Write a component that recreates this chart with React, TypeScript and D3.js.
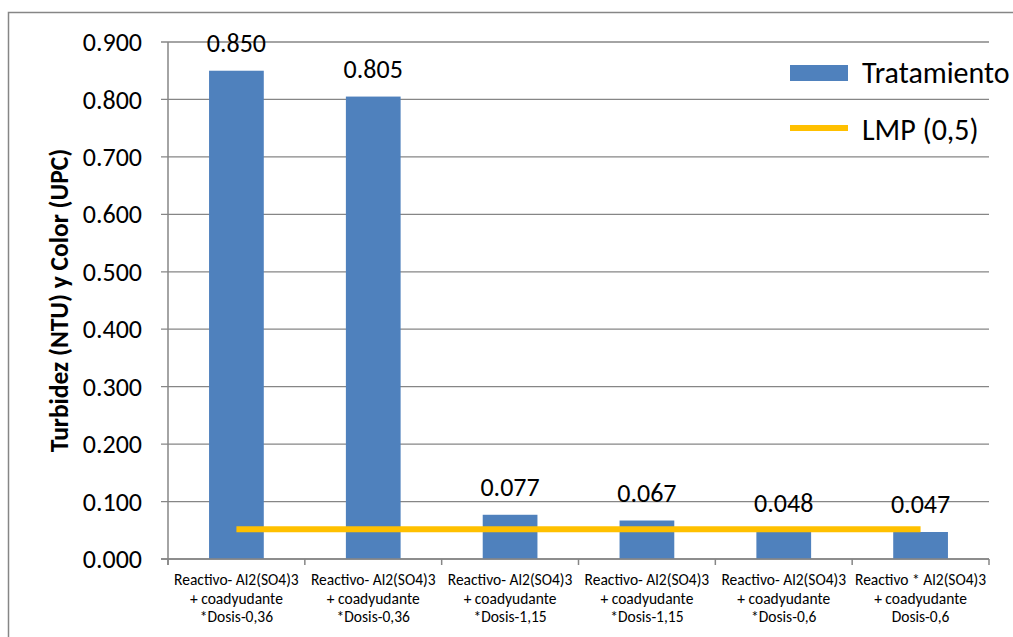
import React from "react";
import * as d3 from "d3";

const categories: string[][] = [
  ["Reactivo- Al2(SO4)3", "+ coadyudante", "*Dosis-0,36"],
  ["Reactivo- Al2(SO4)3", "+ coadyudante", "*Dosis-0,36"],
  ["Reactivo- Al2(SO4)3", "+ coadyudante", "*Dosis-1,15"],
  ["Reactivo- Al2(SO4)3", "+ coadyudante", "*Dosis-1,15"],
  ["Reactivo- Al2(SO4)3", "+ coadyudante", "*Dosis-0,6"],
  ["Reactivo * Al2(SO4)3", "+ coadyudante", "Dosis-0,6"],
];
const tratamiento: number[] = [0.85, 0.805, 0.077, 0.067, 0.048, 0.047];
const lmp: number[] = [0.052, 0.052, 0.052, 0.052, 0.052, 0.052];
const yTicks: number[] = [0, 0.1, 0.2, 0.3, 0.4, 0.5, 0.6, 0.7, 0.8, 0.9];
const seriesNames = ["Tratamiento", "LMP (0,5)"];
const yTitle = "Turbidez (NTU) y Color (UPC)";

const W = 1013;
const H = 637;
const left = 168;
const right = 989;
const top = 42;
const bottom = 559;
const FONT = "Carlito, Calibri, Lato, 'Open Sans', sans-serif";
const BAR = "#4F81BD";
const GOLD = "#FFC000";
const GRID = "#868686";

export default function App() {
  const idx = categories.map((_, i) => String(i));
  const x = d3.scaleBand<string>().domain(idx).range([left, right]).paddingInner(0.6).paddingOuter(0.3);
  const step = (right - left) / categories.length;
  const y = d3.scaleLinear().domain([0, 0.9]).range([bottom, top]);
  const center = (i: number) => (x(String(i)) as number) + x.bandwidth() / 2;
  const line = d3
    .line<number>()
    .x((_, i) => center(i))
    .y((d) => y(d));
  const fmt = d3.format(".3f");

  return (
    <svg width={W} height={H} style={{ position: "absolute", left: 0, top: 0, background: "#fff" }} fontFamily={FONT}>
      <rect x={8.5} y={12.5} width={1030} height={660} fill="#fff" stroke="#868686" strokeWidth={1.5} />
      {yTicks.map((t) => (
        <g key={t}>
          <line x1={left - 7} x2={right} y1={y(t)} y2={y(t)} stroke={GRID} strokeWidth={1.3} />
          <text x={left - 26} y={y(t)} dy="0.35em" textAnchor="end" fontSize={26} fill="#000">
            {fmt(t)}
          </text>
        </g>
      ))}
      {tratamiento.map((v, i) => (
        <rect key={i} x={x(String(i))} y={y(v)} width={x.bandwidth()} height={y(0) - y(v)} fill={BAR} />
      ))}
      <line x1={left} x2={left} y1={top} y2={bottom + 6} stroke={GRID} strokeWidth={1.5} />
      <line x1={left - 7} x2={right} y1={bottom} y2={bottom} stroke={GRID} strokeWidth={1.5} />
      {d3.range(categories.length + 1).map((i) => (
        <line key={i} x1={left + i * step} x2={left + i * step} y1={bottom} y2={bottom + 6} stroke={GRID} strokeWidth={1.5} />
      ))}
      <path d={line(lmp) || ""} fill="none" stroke={GOLD} strokeWidth={6} />
      {tratamiento.map((v, i) => (
        <text key={i} x={center(i)} y={y(v) - 19} textAnchor="middle" fontSize={26} fill="#000">
          {fmt(v)}
        </text>
      ))}
      {categories.map((lines, i) => (
        <text key={i} x={center(i)} textAnchor="middle" fontSize={15.5} fill="#000">
          {lines.map((l, j) => (
            <tspan key={j} x={center(i)} y={585 + j * 18.5}>
              {l}
            </tspan>
          ))}
        </text>
      ))}
      <text
        transform={`translate(${68},${(top + bottom) / 2}) rotate(-90)`}
        textAnchor="middle"
        fontSize={25.5}
        fontWeight="bold"
        fill="#000"
      >
        {yTitle}
      </text>
      <rect x={790} y={65} width={58} height={16} fill={BAR} />
      <text x={862} y={72} dy="0.35em" fontSize={30} fill="#000">
        {seriesNames[0]}
      </text>
      <line x1={790} x2={848} y1={128} y2={128} stroke={GOLD} strokeWidth={6} />
      <text x={862} y={129} dy="0.35em" fontSize={30} fill="#000">
        {seriesNames[1]}
      </text>
    </svg>
  );
}
